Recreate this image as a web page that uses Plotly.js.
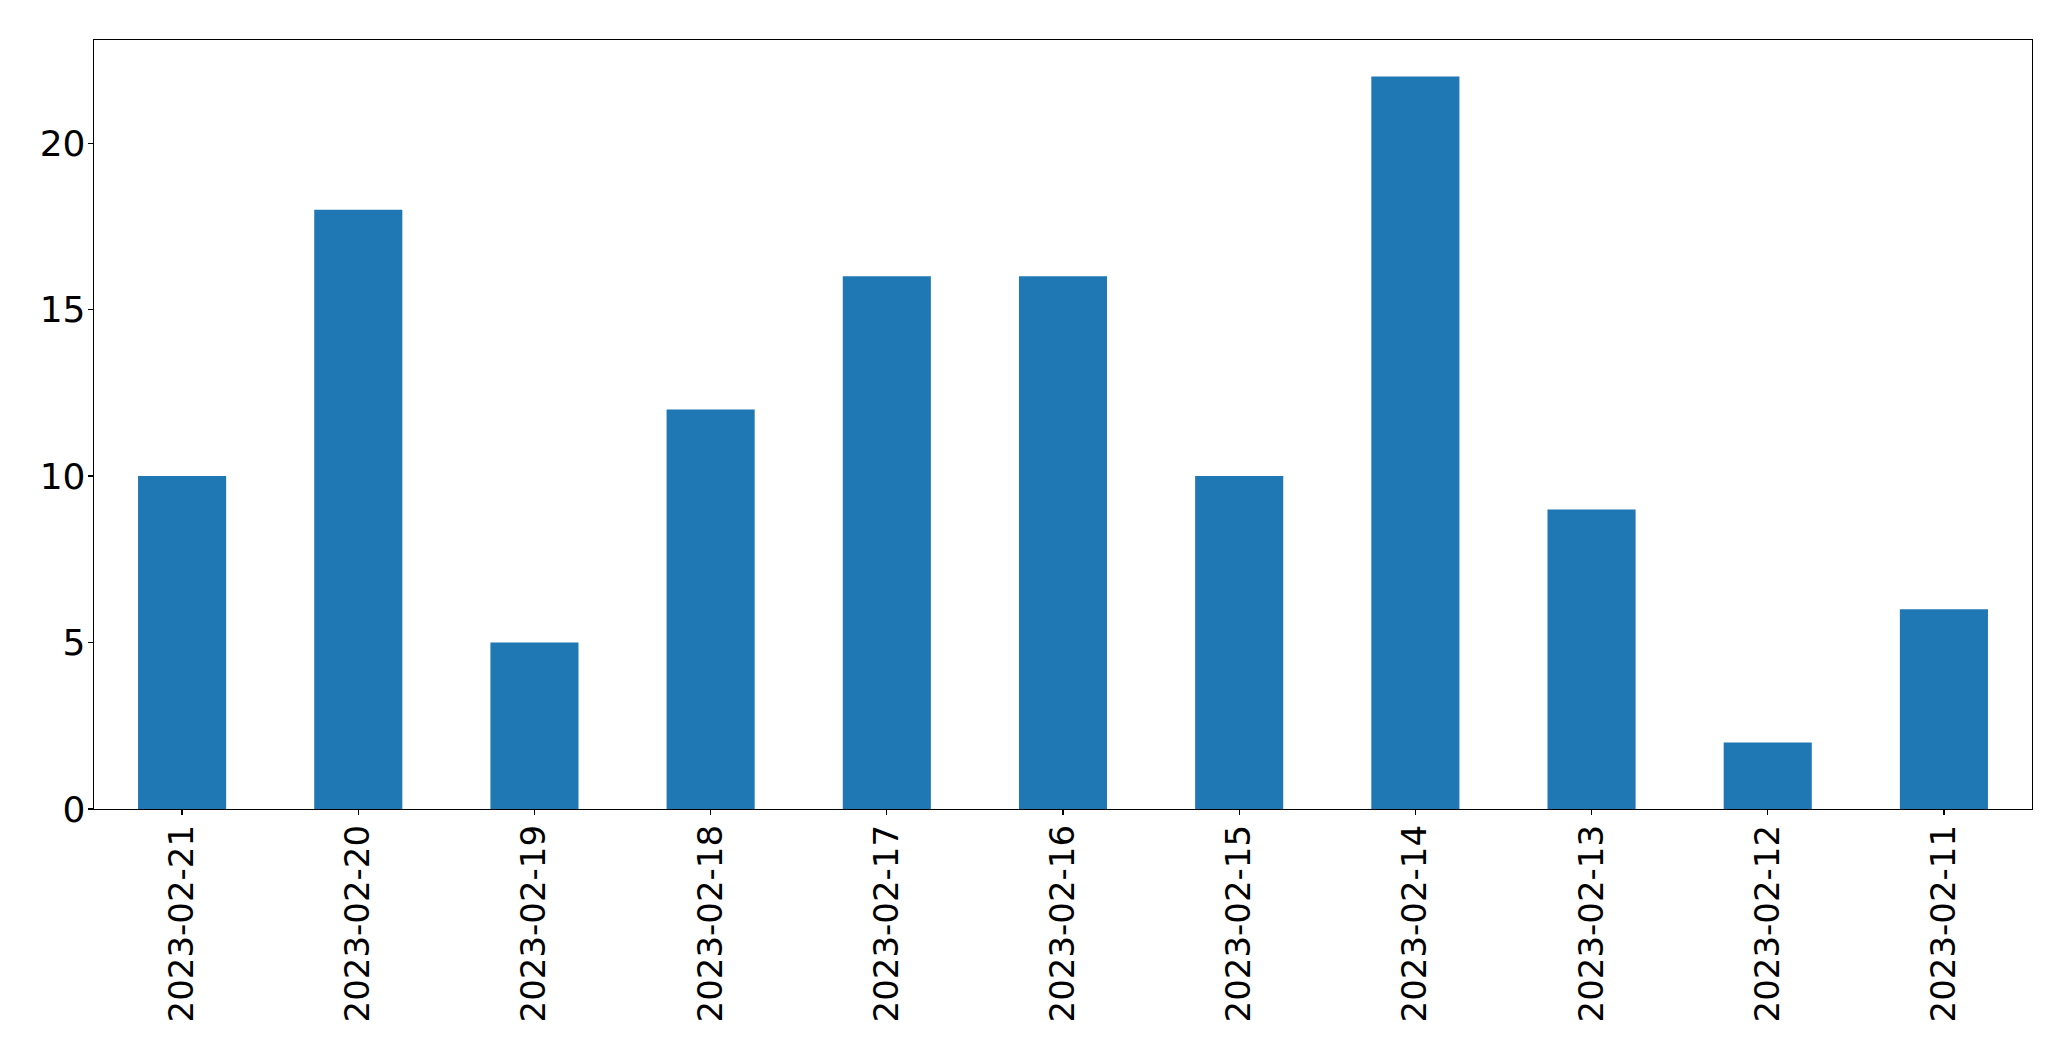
<!DOCTYPE html>
<html>
<head>
<meta charset="utf-8">
<script src="https://cdn.plot.ly/plotly-3.0.1.min.js"></script>
<style>html,body{margin:0;padding:0;background:#fff;}#chart{width:2071px;height:1061px;}</style>
</head>
<body>
<div id="chart"></div>
<script>
const dates = ["2023-02-21","2023-02-20","2023-02-19","2023-02-18","2023-02-17","2023-02-16","2023-02-15","2023-02-14","2023-02-13","2023-02-12","2023-02-11"];
const counts = [10,18,5,12,16,16,10,22,9,2,6];
const yTicks = [0,5,10,15,20];

const trace = {
  type: 'bar',
  x: dates,
  y: counts,
  width: 0.5,
  marker: {color: '#1f77b4', line: {width: 0}},
  hoverinfo: 'x+y'
};
const layout = {
  width: 2071, height: 1061,
  margin: {l: 94, r: 39, t: 40, b: 252, pad: 0},
  paper_bgcolor: '#ffffff', plot_bgcolor: '#ffffff',
  showlegend: false,
  font: {family: 'DejaVu Sans', color: '#000000', size: 34},
  xaxis: {
    type: 'category', range: [-0.5, 10.5],
    showgrid: false, zeroline: false,
    showline: true, mirror: true, linecolor: '#000', linewidth: 1.3,
    ticks: 'outside', ticklen: 5, tickwidth: 1.3, tickcolor: '#000',
    ticklabelstandoff: -4,
    tickangle: -90, tickfont: {family: 'DejaVu Sans', size: 34, color: '#000'}
  },
  yaxis: {
    range: [0, 23.1],
    tickvals: yTicks, ticktext: yTicks.map(String),
    showgrid: false, zeroline: false,
    showline: true, mirror: true, linecolor: '#000', linewidth: 1.3,
    ticks: 'outside', ticklen: 5, tickwidth: 1.3, tickcolor: '#000',
    ticklabelstandoff: -5,
    tickfont: {family: 'DejaVu Sans', size: 36, color: '#000'}
  }
};
Plotly.newPlot('chart', [trace], layout, {displayModeBar: false, staticPlot: true});
</script>
</body>
</html>
